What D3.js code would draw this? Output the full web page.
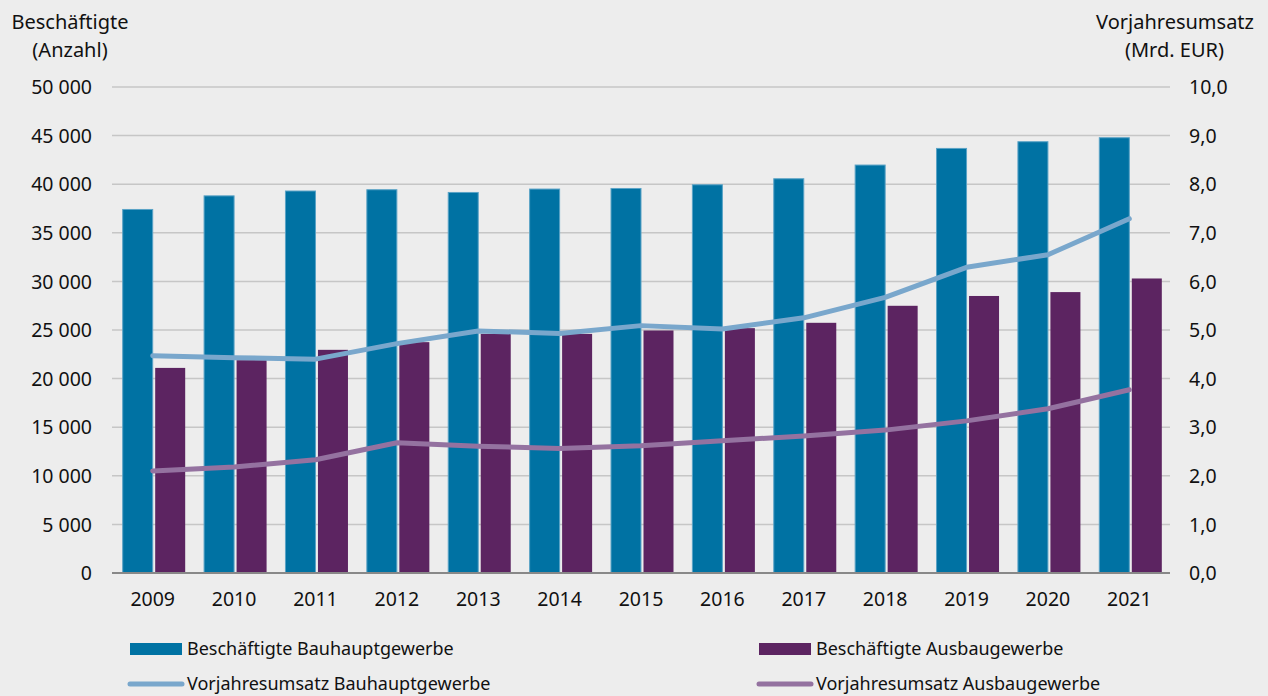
<!DOCTYPE html>
<html>
<head>
<meta charset="utf-8">
<style>
  body { margin: 0; background: #ededed; }
  svg { display: block; }
  text { font-family: "Noto Sans", "Open Sans", sans-serif; fill: #111; }
</style>
<script src="https://d3js.org/d3.v7.min.js"></script>
</head>
<body>
<script>
  const width = 1268;
  const height = 696;

  const years = ["2009", "2010", "2011", "2012", "2013", "2014", "2015", "2016", "2017", "2018", "2019", "2020", "2021"];
  const empMain = [37400, 38800, 39300, 39430, 39150, 39500, 39560, 39940, 40560, 41970, 43680, 44370, 44780];
  const empFinish = [21100, 21900, 22960, 23750, 24600, 24600, 24950, 25190, 25740, 27490, 28500, 28900, 30300];
  const salesMain = [4.47, 4.43, 4.40, 4.72, 4.98, 4.93, 5.09, 5.02, 5.25, 5.67, 6.29, 6.55, 7.29];
  const salesFinish = [2.10, 2.18, 2.33, 2.68, 2.61, 2.56, 2.62, 2.72, 2.82, 2.94, 3.13, 3.38, 3.77];
  const leftTicks = [0, 5000, 10000, 15000, 20000, 25000, 30000, 35000, 40000, 45000, 50000];
  const rightTicks = [0, 1, 2, 3, 4, 5, 6, 7, 8, 9, 10];

  const margin = { left: 112, right: 98, top: 87, bottom: 123 };
  const plotW = width - margin.left - margin.right;
  const plotH = height - margin.top - margin.bottom;

  const blue = "#0072a3", purple = "#5c2461";
  const blueLine = "#79a7cc", purpleLine = "#9472a0";

  const svg = d3.select("body").append("svg")
    .attr("width", width)
    .attr("height", height);

  const g = svg.append("g").attr("transform", "translate(" + margin.left + "," + margin.top + ")");

  const x = d3.scaleBand().domain(years).range([0, plotW]).padding(0);
  const yL = d3.scaleLinear().domain([0, 50000]).range([plotH, 0]);
  const yR = d3.scaleLinear().domain([0, 10]).range([plotH, 0]);

  const fmtL = function(d) { return d3.format(",")(d).replace(/,/g, " "); };
  const fmtR = function(d) { return d3.format(".1f")(d).replace(".", ","); };

  // gridlines
  g.append("g")
    .selectAll("line")
    .data(leftTicks.slice(1))
    .join("line")
      .attr("x1", 0).attr("x2", plotW)
      .attr("y1", d => yL(d)).attr("y2", d => yL(d))
      .attr("stroke", "#c6c6c6").attr("stroke-width", 1.5);

  // left axis
  const axL = g.append("g")
    .call(d3.axisLeft(yL).tickValues(leftTicks).tickFormat(fmtL).tickSize(0).tickPadding(20));
  axL.select(".domain").remove();
  axL.selectAll("text").attr("font-size", 19.5).attr("fill", "#111").attr("dy", "0.34em");

  // right axis
  const axR = g.append("g")
    .attr("transform", "translate(" + plotW + ",0)")
    .call(d3.axisRight(yR).tickValues(rightTicks).tickFormat(fmtR).tickSize(0).tickPadding(19));
  axR.select(".domain").remove();
  axR.selectAll("text").attr("font-size", 19.5).attr("fill", "#111").attr("dy", "0.34em");

  // bars
  const barW = 30, gap = 2.5;
  g.append("g").selectAll("rect")
    .data(empMain)
    .join("rect")
      .attr("x", (d, i) => x(years[i]) + x.bandwidth() / 2 - barW)
      .attr("y", d => yL(d))
      .attr("width", barW)
      .attr("height", d => plotH - yL(d))
      .attr("fill", blue)
      .attr("stroke", "#5aa3c6").attr("stroke-width", 1);

  g.append("g").selectAll("rect")
    .data(empFinish)
    .join("rect")
      .attr("x", (d, i) => x(years[i]) + x.bandwidth() / 2 + gap)
      .attr("y", d => yL(d))
      .attr("width", barW)
      .attr("height", d => plotH - yL(d))
      .attr("fill", purple);

  // baseline
  g.append("line")
    .attr("x1", 0).attr("x2", plotW)
    .attr("y1", plotH).attr("y2", plotH)
    .attr("stroke", "#888").attr("stroke-width", 2);

  // x axis labels
  const axX = g.append("g")
    .attr("transform", "translate(0," + plotH + ")")
    .call(d3.axisBottom(x).tickSize(0).tickPadding(19));
  axX.select(".domain").remove();
  axX.selectAll("text").attr("font-size", 19.5).attr("fill", "#111");

  // lines
  const line = function(vals) {
    return d3.line()
      .x((d, i) => x(years[i]) + x.bandwidth() / 2)
      .y(d => yR(d))(vals);
  };
  g.append("path")
    .attr("d", line(salesMain))
    .attr("fill", "none").attr("stroke", blueLine)
    .attr("stroke-width", 5).attr("stroke-linecap", "round").attr("stroke-linejoin", "round");
  g.append("path")
    .attr("d", line(salesFinish))
    .attr("fill", "none").attr("stroke", purpleLine)
    .attr("stroke-width", 5).attr("stroke-linecap", "round").attr("stroke-linejoin", "round");

  // axis titles
  svg.append("text").attr("x", 70).attr("y", 29).attr("text-anchor", "middle")
    .attr("font-size", 20).text("Beschäftigte");
  svg.append("text").attr("x", 70).attr("y", 57).attr("text-anchor", "middle")
    .attr("font-size", 20).text("(Anzahl)");
  svg.append("text").attr("x", 1254).attr("y", 29).attr("text-anchor", "end")
    .attr("font-size", 20).text("Vorjahresumsatz");
  svg.append("text").attr("x", 1224).attr("y", 57).attr("text-anchor", "end")
    .attr("font-size", 20).text("(Mrd. EUR)");

  // legend
  const legend = [
    { label: "Beschäftigte Bauhauptgewerbe", type: "rect", color: blue, x: 130, y: 649 },
    { label: "Beschäftigte Ausbaugewerbe", type: "rect", color: purple, x: 759, y: 649 },
    { label: "Vorjahresumsatz Bauhauptgewerbe", type: "line", color: blueLine, x: 130, y: 684 },
    { label: "Vorjahresumsatz Ausbaugewerbe", type: "line", color: purpleLine, x: 759, y: 684 }
  ];
  const lg = svg.append("g").selectAll("g").data(legend).join("g")
    .attr("transform", d => "translate(" + d.x + "," + d.y + ")");
  lg.filter(d => d.type === "rect").append("rect")
    .attr("x", 0).attr("y", -6).attr("width", 52).attr("height", 12)
    .attr("fill", d => d.color);
  lg.filter(d => d.type === "line").append("line")
    .attr("x1", 0).attr("x2", 52).attr("y1", 0).attr("y2", 0)
    .attr("stroke", d => d.color).attr("stroke-width", 5).attr("stroke-linecap", "round");
  lg.append("text")
    .attr("x", 57).attr("y", 0).attr("dy", "0.35em")
    .attr("font-size", 18)
    .text(d => d.label);
</script>
</body>
</html>
